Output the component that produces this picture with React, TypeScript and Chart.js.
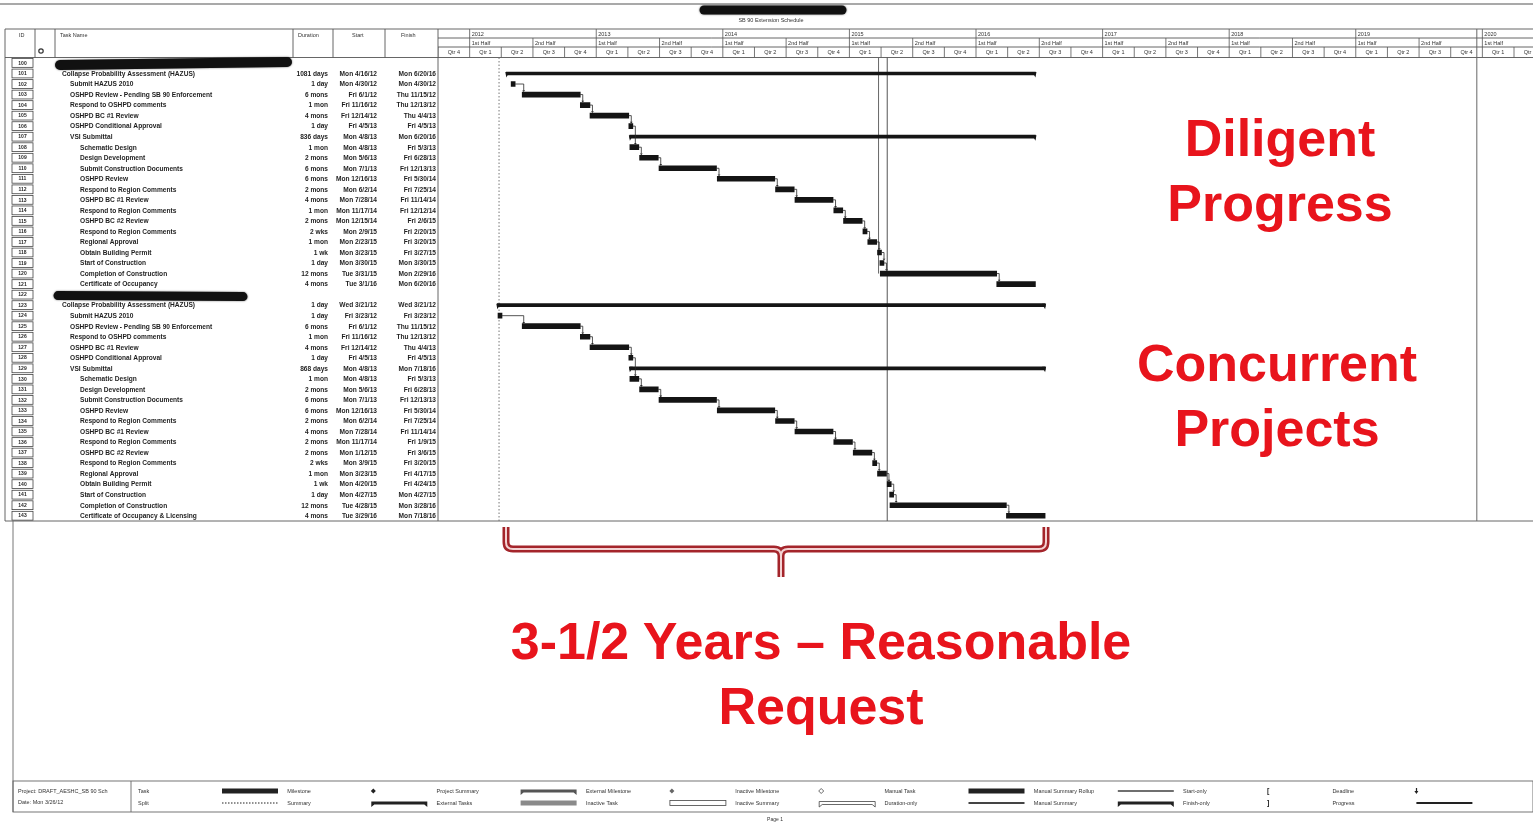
import React, { useEffect, useRef } from 'react';
import { Chart, registerables } from 'chart.js';

Chart.register(...registerables);

// ---------------- DATA ----------------
const taskIds = ['100','101','102','103','104','105','106','107','108','109','110','111','112','113','114','115','116','117','118','119','120','121',
  '122','123','124','125','126','127','128','129','130','131','132','133','134','135','136','137','138','139','140','141','142','143'];

const taskNames = [
  '', 'Collapse Probability Assessment (HAZUS)', 'Submit HAZUS 2010', 'OSHPD Review - Pending SB 90 Enforcement', 'Respond to OSHPD comments',
  'OSHPD BC #1 Review', 'OSHPD Conditional Approval', 'VSI Submittal', 'Schematic Design', 'Design Development',
  'Submit Construction Documents', 'OSHPD Review', 'Respond to Region Comments', 'OSHPD BC #1 Review', 'Respond to Region Comments',
  'OSHPD BC #2 Review', 'Respond to Region Comments', 'Regional Approval', 'Obtain Building Permit', 'Start of Construction',
  'Completion of Construction', 'Certificate of Occupancy',
  '', 'Collapse Probability Assessment (HAZUS)', 'Submit HAZUS 2010', 'OSHPD Review - Pending SB 90 Enforcement', 'Respond to OSHPD comments',
  'OSHPD BC #1 Review', 'OSHPD Conditional Approval', 'VSI Submittal', 'Schematic Design', 'Design Development',
  'Submit Construction Documents', 'OSHPD Review', 'Respond to Region Comments', 'OSHPD BC #1 Review', 'Respond to Region Comments',
  'OSHPD BC #2 Review', 'Respond to Region Comments', 'Regional Approval', 'Obtain Building Permit', 'Start of Construction',
  'Completion of Construction', 'Certificate of Occupancy & Licensing'
];

const outlineLevels = [0,1,2,2,2,2,2,2,3,3,3,3,3,3,3,3,3,3,3,3,3,3, 0,1,2,2,2,2,2,2,3,3,3,3,3,3,3,3,3,3,3,3,3,3];

const durations = [
  '', '1081 days', '1 day', '6 mons', '1 mon', '4 mons', '1 day', '836 days', '1 mon', '2 mons', '6 mons', '6 mons', '2 mons', '4 mons',
  '1 mon', '2 mons', '2 wks', '1 mon', '1 wk', '1 day', '12 mons', '4 mons',
  '', '1 day', '1 day', '6 mons', '1 mon', '4 mons', '1 day', '868 days', '1 mon', '2 mons', '6 mons', '6 mons', '2 mons', '4 mons',
  '2 mons', '2 mons', '2 wks', '1 mon', '1 wk', '1 day', '12 mons', '4 mons'
];

const startLabels = [
  '', 'Mon 4/16/12', 'Mon 4/30/12', 'Fri 6/1/12', 'Fri 11/16/12', 'Fri 12/14/12', 'Fri 4/5/13', 'Mon 4/8/13', 'Mon 4/8/13', 'Mon 5/6/13',
  'Mon 7/1/13', 'Mon 12/16/13', 'Mon 6/2/14', 'Mon 7/28/14', 'Mon 11/17/14', 'Mon 12/15/14', 'Mon 2/9/15', 'Mon 2/23/15', 'Mon 3/23/15',
  'Mon 3/30/15', 'Tue 3/31/15', 'Tue 3/1/16',
  '', 'Wed 3/21/12', 'Fri 3/23/12', 'Fri 6/1/12', 'Fri 11/16/12', 'Fri 12/14/12', 'Fri 4/5/13', 'Mon 4/8/13', 'Mon 4/8/13', 'Mon 5/6/13',
  'Mon 7/1/13', 'Mon 12/16/13', 'Mon 6/2/14', 'Mon 7/28/14', 'Mon 11/17/14', 'Mon 1/12/15', 'Mon 3/9/15', 'Mon 3/23/15', 'Mon 4/20/15',
  'Mon 4/27/15', 'Tue 4/28/15', 'Tue 3/29/16'
];

const finishLabels = [
  '', 'Mon 6/20/16', 'Mon 4/30/12', 'Thu 11/15/12', 'Thu 12/13/12', 'Thu 4/4/13', 'Fri 4/5/13', 'Mon 6/20/16', 'Fri 5/3/13', 'Fri 6/28/13',
  'Fri 12/13/13', 'Fri 5/30/14', 'Fri 7/25/14', 'Fri 11/14/14', 'Fri 12/12/14', 'Fri 2/6/15', 'Fri 2/20/15', 'Fri 3/20/15', 'Fri 3/27/15',
  'Mon 3/30/15', 'Mon 2/29/16', 'Mon 6/20/16',
  '', 'Wed 3/21/12', 'Fri 3/23/12', 'Thu 11/15/12', 'Thu 12/13/12', 'Thu 4/4/13', 'Fri 4/5/13', 'Mon 7/18/16', 'Fri 5/3/13', 'Fri 6/28/13',
  'Fri 12/13/13', 'Fri 5/30/14', 'Fri 7/25/14', 'Fri 11/14/14', 'Fri 1/9/15', 'Fri 3/6/15', 'Fri 3/20/15', 'Fri 4/17/15', 'Fri 4/24/15',
  'Mon 4/27/15', 'Mon 3/28/16', 'Mon 7/18/16'
];

const redactedRows = ['100', '122'];
const summaryIds = ['101', '107', '123', '129'];
const summaryBarEnds = ['6/20/16', '6/20/16', '7/18/16', '7/18/16'];

const linkChains = [
  ['102','103','104','105','106','108','109','110','111','112','113','114','115','116','117','118','119','120','121'],
  ['124','125','126','127','128','130','131','132','133','134','135','136','137','138','139','140','141','142','143']
];

const yearLabels = ['2012','2013','2014','2015','2016','2017','2018','2019','2020'];
const halfLabels = ['1st Half', '2nd Half'];
const quarterLabels = ['Qtr 1', 'Qtr 2', 'Qtr 3', 'Qtr 4'];

const statusDate = '3/26/12';
const markerDates = ['3/26/15', '4/20/15'];
const pageBreakDate = '12/16/19';

const legendRow1 = ['Task','Milestone','Project Summary','External Milestone','Inactive Milestone','Manual Task','Manual Summary Rollup','Start-only','Deadline'];
const legendRow2 = ['Split','Summary','External Tasks','Inactive Task','Inactive Summary','Duration-only','Manual Summary','Finish-only','Progress'];
const projectInfo = ['Project: DRAFT_AESHC_SB 90 Sch', 'Date: Mon 3/26/12'];

// ---------------- HELPERS ----------------
function toYear(s: string, endOfDay = false): number {
  const datePart = s.includes(' ') ? s.split(' ')[1] : s;
  const [m, d, yy] = datePart.split('/').map(Number);
  const y = 2000 + yy;
  const t0 = Date.UTC(y, 0, 1);
  const t1 = Date.UTC(y + 1, 0, 1);
  const t = Date.UTC(y, m - 1, d) + (endOfDay ? 86400000 * 0.8 : 0);
  return y + (t - t0) / (t1 - t0);
}

const FONT = '"Liberation Sans", Arial, sans-serif';
const INK = '#1e1e1e';

const taskData = taskIds.map((id, i) => {
  if (redactedRows.includes(id) || summaryIds.includes(id) || !startLabels[i]) return null;
  return [toYear(startLabels[i]), toYear(finishLabels[i], true)];
});
const summaryData = taskIds.map((id, i) => {
  const k = summaryIds.indexOf(id);
  if (k < 0) return null;
  return [toYear(startLabels[i]), toYear(summaryBarEnds[k], true)];
});

function blob(ctx: CanvasRenderingContext2D, x1: number, y1: number, x2: number, y2: number, h: number) {
  ctx.save();
  ctx.fillStyle = '#111';
  ctx.strokeStyle = '#111';
  ctx.shadowColor = 'rgba(0,0,0,0.6)';
  ctx.shadowBlur = 2;
  ctx.lineCap = 'round';
  ctx.lineWidth = h;
  ctx.beginPath();
  ctx.moveTo(x1, y1);
  ctx.lineTo(x2, y2);
  ctx.stroke();
  ctx.restore();
}

function line(ctx: CanvasRenderingContext2D, x1: number, y1: number, x2: number, y2: number) {
  ctx.beginPath();
  ctx.moveTo(x1, y1);
  ctx.lineTo(x2, y2);
  ctx.stroke();
}

function summaryShape(ctx: CanvasRenderingContext2D, x: number, y: number, w: number, fill: boolean) {
  ctx.beginPath();
  ctx.moveTo(x, y - 1.5);
  ctx.lineTo(x + w, y - 1.5);
  ctx.lineTo(x + w, y + 4);
  ctx.lineTo(x + w - 3, y + 1.5);
  ctx.lineTo(x + 3, y + 1.5);
  ctx.lineTo(x, y + 4);
  ctx.closePath();
  if (fill) ctx.fill(); else ctx.stroke();
}

function diamond(ctx: CanvasRenderingContext2D, x: number, y: number, r: number, fill: boolean) {
  ctx.beginPath();
  ctx.moveTo(x, y - r);
  ctx.lineTo(x + r, y);
  ctx.lineTo(x, y + r);
  ctx.lineTo(x - r, y);
  ctx.closePath();
  if (fill) ctx.fill(); else ctx.stroke();
}

function legendSymbol(ctx: CanvasRenderingContext2D, name: string, x: number, y: number) {
  const w = 56;
  ctx.save();
  ctx.fillStyle = '#222';
  ctx.strokeStyle = '#444';
  ctx.lineWidth = 0.8;
  switch (name) {
    case 'Task': ctx.fillRect(x, y - 2.5, w, 5); break;
    case 'Split': for (let i = 0; i < w; i += 3) ctx.fillRect(x + i, y - 0.5, 1.5, 1); break;
    case 'Milestone': diamond(ctx, x + 2, y, 2.5, true); break;
    case 'Summary': summaryShape(ctx, x, y, w, true); break;
    case 'Project Summary': ctx.fillStyle = '#555'; summaryShape(ctx, x, y, w, true); break;
    case 'External Tasks': ctx.fillStyle = '#8a8a8a'; ctx.fillRect(x, y - 2.5, w, 5); break;
    case 'External Milestone': ctx.fillStyle = '#666'; diamond(ctx, x + 2, y, 2.5, true); break;
    case 'Inactive Task': ctx.strokeRect(x, y - 2.5, w, 5); break;
    case 'Inactive Milestone': diamond(ctx, x + 2, y, 2.5, false); break;
    case 'Inactive Summary': summaryShape(ctx, x, y, w, false); break;
    case 'Manual Task': ctx.fillRect(x, y - 2.5, w, 5); break;
    case 'Duration-only': ctx.fillStyle = '#444'; ctx.fillRect(x, y - 1, w, 2); break;
    case 'Manual Summary Rollup': ctx.fillStyle = '#333'; ctx.fillRect(x, y - 0.7, w, 1.4); break;
    case 'Manual Summary': summaryShape(ctx, x, y, w, true); break;
    case 'Start-only': ctx.font = `bold 7px ${FONT}`; ctx.textBaseline = 'middle'; ctx.fillText('[', x, y); break;
    case 'Finish-only': ctx.font = `bold 7px ${FONT}`; ctx.textBaseline = 'middle'; ctx.fillText(']', x, y); break;
    case 'Deadline':
      ctx.fillRect(x - 0.5, y - 3, 1.2, 3);
      ctx.beginPath(); ctx.moveTo(x - 2, y); ctx.lineTo(x + 2, y); ctx.lineTo(x, y + 3); ctx.closePath(); ctx.fill();
      break;
    case 'Progress': ctx.fillRect(x, y - 1, w, 2); break;
  }
  ctx.restore();
}

// ---------------- PLUGIN ----------------
const HEAD_TOP = 29, HEAD_Y1 = 38, HEAD_Y2 = 47, HEAD_BOT = 57.5;
const TABLE_LEFT = 5;
const COLS = [35, 55, 293, 333, 385];

const ganttDecor = {
  id: 'ganttDecor',
  beforeDraw(chart: any) {
    const { ctx, chartArea: ca, scales } = chart;
    const xs = scales.x, ys = scales.y;
    ctx.save();
    ctx.fillStyle = '#fff';
    ctx.fillRect(0, 0, chart.width, chart.height);

    // page top edge
    ctx.strokeStyle = '#8c8c8c';
    ctx.lineWidth = 1.4;
    line(ctx, 0, 4, chart.width, 4);

    // title
    blob(ctx, 704, 10, 842, 10, 9);
    ctx.fillStyle = '#333';
    ctx.font = `5.5px ${FONT}`;
    ctx.textAlign = 'center';
    ctx.textBaseline = 'middle';
    ctx.fillText('SB 90 Extension Schedule', 771, 20);

    // frames
    ctx.strokeStyle = '#555';
    ctx.lineWidth = 0.9;
    line(ctx, TABLE_LEFT, HEAD_TOP, chart.width, HEAD_TOP);
    line(ctx, TABLE_LEFT, HEAD_BOT, chart.width, HEAD_BOT);
    line(ctx, TABLE_LEFT, HEAD_TOP, TABLE_LEFT, ca.bottom);
    line(ctx, ca.left, HEAD_TOP, ca.left, ca.bottom);
    line(ctx, TABLE_LEFT, ca.bottom, chart.width, ca.bottom);
    COLS.forEach((c) => line(ctx, c, HEAD_TOP, c, HEAD_BOT));
    line(ctx, ca.left, HEAD_Y1, chart.width, HEAD_Y1);
    line(ctx, ca.left, HEAD_Y2, chart.width, HEAD_Y2);

    // table headers
    ctx.fillStyle = '#333';
    ctx.font = `5.5px ${FONT}`;
    ctx.textAlign = 'left';
    ctx.fillText('ID', 19, 35);
    ctx.fillText('Task Name', 60, 35);
    ctx.fillText('Duration', 298, 35);
    ctx.fillText('Start', 352, 35);
    ctx.fillText('Finish', 401, 35);
    ctx.beginPath();
    ctx.arc(41, 51, 2.2, 0, Math.PI * 2);
    ctx.lineWidth = 1.2;
    ctx.strokeStyle = '#333';
    ctx.stroke();

    // timeline header
    ctx.save();
    ctx.beginPath();
    ctx.rect(ca.left, HEAD_TOP, ca.right - ca.left, HEAD_BOT - HEAD_TOP);
    ctx.clip();
    ctx.strokeStyle = '#555';
    ctx.lineWidth = 0.8;
    ctx.fillStyle = '#333';
    ctx.font = `5.5px ${FONT}`;
    const k0 = Math.ceil(xs.min * 4 - 1e-6);
    const k1 = Math.floor(xs.max * 4);
    for (let k = k0; k <= k1; k++) {
      const v = k / 4;
      const px = xs.getPixelForValue(v);
      const q = ((k % 4) + 4) % 4;
      line(ctx, px, HEAD_Y2, px, HEAD_BOT);
      ctx.textAlign = 'center';
      ctx.fillText(quarterLabels[q], xs.getPixelForValue(v + 0.125), (HEAD_Y2 + HEAD_BOT) / 2 + 0.5);
      if (q % 2 === 0) {
        line(ctx, px, HEAD_Y1, px, HEAD_Y2);
        ctx.textAlign = 'left';
        ctx.fillText(halfLabels[q / 2], px + 2, (HEAD_Y1 + HEAD_Y2) / 2 + 0.5);
      }
      if (q === 0) {
        line(ctx, px, HEAD_TOP, px, HEAD_Y1);
        const yl = yearLabels.find((s) => Number(s) === Math.round(v));
        if (yl) {
          ctx.textAlign = 'left';
          ctx.fillText(yl, px + 2, (HEAD_TOP + HEAD_Y1) / 2 + 0.5);
        }
      }
    }
    ctx.restore();

    // table body
    taskIds.forEach((id, i) => {
      const y = ys.getPixelForValue(i);
      ctx.strokeStyle = '#444';
      ctx.lineWidth = 0.8;
      ctx.strokeRect(12, y - 4.4, 21, 8.8);
      ctx.fillStyle = INK;
      ctx.font = `bold 5px ${FONT}`;
      ctx.textAlign = 'center';
      ctx.textBaseline = 'middle';
      ctx.fillText(id, 22.5, y + 0.3);
      if (redactedRows.includes(id)) {
        if (i === 0) blob(ctx, 60, y + 2, 287, y - 1, 10);
        else blob(ctx, 58, y + 1, 243, y + 2, 9);
        return;
      }
      const lvl = outlineLevels[i];
      const nx = [0, 62, 70, 80][lvl];
      ctx.font = `bold 6.6px ${FONT}`;
      ctx.textAlign = 'left';
      ctx.fillText(taskNames[i], nx, y + 0.5);
      ctx.textAlign = 'right';
      ctx.fillText(durations[i], 328, y + 0.5);
      ctx.fillText(startLabels[i], 377, y + 0.5);
      ctx.fillText(finishLabels[i], 436, y + 0.5);
    });

    // vertical markers
    ctx.strokeStyle = '#777';
    ctx.lineWidth = 1;
    ctx.setLineDash([1.5, 2]);
    const sx = xs.getPixelForValue(toYear(statusDate));
    line(ctx, sx, HEAD_BOT, sx, ca.bottom);
    ctx.setLineDash([]);
    ctx.strokeStyle = '#666';
    const m0 = xs.getPixelForValue(toYear(markerDates[0]));
    line(ctx, m0, HEAD_BOT, m0, ys.getPixelForValue(taskIds.indexOf('120')));
    const m1 = xs.getPixelForValue(toYear(markerDates[1]));
    ctx.strokeStyle = '#555';
    line(ctx, m1, HEAD_BOT, m1, ca.bottom);
    const pb = xs.getPixelForValue(toYear(pageBreakDate));
    ctx.strokeStyle = '#666';
    line(ctx, pb, HEAD_TOP, pb, ca.bottom);

    ctx.restore();
  },
  afterDatasetsDraw(chart: any) {
    const { ctx } = chart;
    const taskMeta = chart.getDatasetMeta(0);
    const sumMeta = chart.getDatasetMeta(1);
    ctx.save();
    // summary end caps
    ctx.fillStyle = '#151515';
    sumMeta.data.forEach((bar: any, i: number) => {
      if (!summaryData[i]) return;
      const xl = Math.min(bar.x, bar.base);
      const xr = Math.max(bar.x, bar.base);
      const y = bar.y;
      ctx.beginPath();
      ctx.moveTo(xl - 1, y - 1.5); ctx.lineTo(xl + 3, y - 1.5); ctx.lineTo(xl, y + 4); ctx.closePath(); ctx.fill();
      ctx.beginPath();
      ctx.moveTo(xr + 1, y - 1.5); ctx.lineTo(xr - 3, y - 1.5); ctx.lineTo(xr, y + 4); ctx.closePath(); ctx.fill();
    });
    // dependency links
    ctx.strokeStyle = '#2a2a2a';
    ctx.fillStyle = '#2a2a2a';
    ctx.lineWidth = 0.8;
    linkChains.forEach((chain) => {
      for (let j = 0; j < chain.length - 1; j++) {
        const a = taskMeta.data[taskIds.indexOf(chain[j])];
        const b = taskMeta.data[taskIds.indexOf(chain[j + 1])];
        if (!a || !b) continue;
        const xe = Math.max(a.x, a.base);
        const xsb = Math.min(b.x, b.base);
        const xt = Math.max(xe + 2.5, xsb + 1.5);
        const yb = b.y - 2.5;
        ctx.beginPath();
        ctx.moveTo(xe, a.y);
        ctx.lineTo(xt, a.y);
        ctx.lineTo(xt, yb - 1.5);
        ctx.stroke();
        ctx.beginPath();
        ctx.moveTo(xt - 1.4, yb - 1.8); ctx.lineTo(xt + 1.4, yb - 1.8); ctx.lineTo(xt, yb); ctx.closePath(); ctx.fill();
      }
    });
    ctx.restore();
  },
  afterDraw(chart: any) {
    const { ctx, chartArea: ca } = chart;
    ctx.save();
    // lower page frame
    ctx.strokeStyle = '#666';
    ctx.lineWidth = 0.9;
    line(ctx, 13, ca.bottom, 13, 812);
    ctx.strokeRect(13, 781, chart.width - 13, 31);
    line(ctx, 131, 781, 131, 812);
    ctx.fillStyle = '#333';
    ctx.font = `5.5px ${FONT}`;
    ctx.textAlign = 'left';
    ctx.textBaseline = 'middle';
    ctx.fillText(projectInfo[0], 18, 791);
    ctx.fillText(projectInfo[1], 18, 802);
    legendRow1.forEach((name, c) => {
      const x = 138 + c * 149.3;
      ctx.fillStyle = '#333';
      ctx.font = `5.5px ${FONT}`;
      ctx.textAlign = 'left';
      ctx.textBaseline = 'middle';
      ctx.fillText(name, x, 791);
      legendSymbol(ctx, name, x + 84, 791);
    });
    legendRow2.forEach((name, c) => {
      const x = 138 + c * 149.3;
      ctx.fillStyle = '#333';
      ctx.font = `5.5px ${FONT}`;
      ctx.textAlign = 'left';
      ctx.textBaseline = 'middle';
      ctx.fillText(name, x, 803);
      legendSymbol(ctx, name, x + 84, 803);
    });
    ctx.fillStyle = '#333';
    ctx.font = `5px ${FONT}`;
    ctx.textAlign = 'center';
    ctx.fillText('Page 1', 775, 820);

    // red bracket annotation
    const L = 506, R = 1046, T = 527, H = 549, C = 781, B = 577, r = 7;
    ctx.beginPath();
    ctx.moveTo(L, T);
    ctx.lineTo(L, H - r);
    ctx.quadraticCurveTo(L, H, L + r, H);
    ctx.lineTo(C - r, H);
    ctx.quadraticCurveTo(C, H, C, H + r);
    ctx.lineTo(C, B);
    ctx.moveTo(R, T);
    ctx.lineTo(R, H - r);
    ctx.quadraticCurveTo(R, H, R - r, H);
    ctx.lineTo(C + r, H);
    ctx.quadraticCurveTo(C, H, C, H + r);
    ctx.lineCap = 'butt';
    ctx.lineJoin = 'round';
    ctx.strokeStyle = '#a4252b';
    ctx.lineWidth = 7;
    ctx.stroke();
    ctx.strokeStyle = '#f3d2d2';
    ctx.lineWidth = 2;
    ctx.stroke();
    ctx.restore();
  }
};

// ---------------- COMPONENT ----------------
const redStyle: React.CSSProperties = {
  position: 'absolute',
  width: 700,
  textAlign: 'center',
  color: '#e8141c',
  fontFamily: FONT,
  fontWeight: 700,
  fontSize: 52,
  lineHeight: '65px',
  whiteSpace: 'pre',
  margin: 0,
};

export default function App() {
  const canvasRef = useRef<HTMLCanvasElement | null>(null);

  useEffect(() => {
    if (!canvasRef.current) return;
    const chart = new Chart(canvasRef.current, {
      type: 'bar',
      data: {
        labels: taskIds,
        datasets: [
          {
            label: 'Tasks',
            data: taskData as any,
            backgroundColor: '#141414',
            borderWidth: 0,
            barThickness: 5,
            minBarLength: 4,
            grouped: false,
          } as any,
          {
            label: 'Summaries',
            data: summaryData as any,
            backgroundColor: '#151515',
            borderWidth: 0,
            barThickness: 3,
            grouped: false,
          } as any,
        ],
      },
      options: {
        indexAxis: 'y',
        animation: false,
        responsive: false,
        devicePixelRatio: 1,
        layout: { padding: { left: 438, right: 0, top: 57.7, bottom: 304 } },
        plugins: { legend: { display: false }, tooltip: { enabled: false } },
        scales: {
          x: { type: 'linear', min: 2011.75, max: 2020.4, display: false, grid: { display: false } },
          y: { type: 'category', display: false, offset: true, grid: { display: false } },
        },
      },
      plugins: [ganttDecor],
    });
    return () => chart.destroy();
  }, []);

  return (
    <div style={{ position: 'fixed', left: 0, top: 0, width: 1533, height: 825, background: '#fff', overflow: 'hidden' }}>
      <canvas ref={canvasRef} width={1533} height={825} style={{ position: 'absolute', left: 0, top: 0, width: 1533, height: 825 }} />
      <div style={{ ...redStyle, left: 1280 - 350, top: 106 }}>{'Diligent\nProgress'}</div>
      <div style={{ ...redStyle, left: 1277 - 350, top: 331 }}>{'Concurrent\nProjects'}</div>
      <div style={{ ...redStyle, left: 821 - 350, top: 609 }}>{'3-1/2 Years – Reasonable\nRequest'}</div>
    </div>
  );
}
